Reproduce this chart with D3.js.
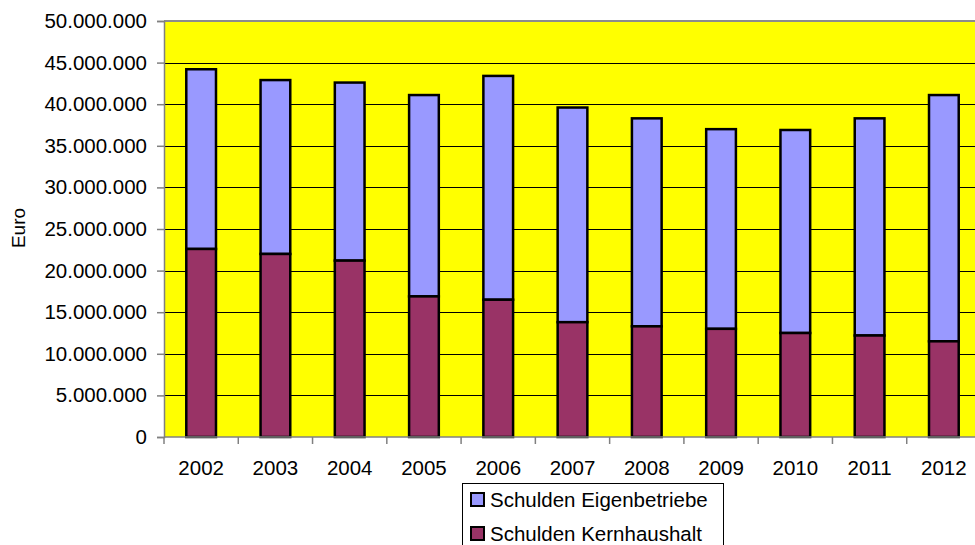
<!DOCTYPE html>
<html>
<head>
<meta charset="utf-8" />
<style>
  body { margin: 0; background: #ffffff; }
  text { font-family: Arial, "Liberation Sans", sans-serif; fill: #000; }
  .grid line { stroke: #000; stroke-width: 1; shape-rendering: crispEdges; }
  .axis .domain { stroke: #808080; stroke-width: 1.5; }
  .axis .tick line { stroke: #808080; stroke-width: 1.5; }
  .axis text { font-size: 20.5px; }
</style>
<script src="https://cdn.jsdelivr.net/npm/d3@7"></script>
</head>
<body>
<div id="chart"></div>
<script>
  var years = ['2002', '2003', '2004', '2005', '2006', '2007', '2008', '2009', '2010', '2011', '2012'];
  // Schulden Kernhaushalt (Euro)
  var kern = [22600000, 22000000, 21200000, 16900000, 16500000, 13800000, 13300000, 13000000, 12500000, 12200000, 11500000];
  // Schulden Eigenbetriebe (Euro), stacked on top
  var eigen = [21600000, 20900000, 21400000, 24200000, 26900000, 25800000, 25000000, 24000000, 24400000, 26100000, 29600000];
  var yTicks = [0, 5000000, 10000000, 15000000, 20000000, 25000000, 30000000, 35000000, 40000000, 45000000, 50000000];
  var seriesNames = ['Schulden Eigenbetriebe', 'Schulden Kernhaushalt'];
  var seriesColors = ['#9999ff', '#993366'];

  (function () {
    var w = 975, h = 545;
    var pLeft = 164, pTop = 21, pBottom = 437, pRight = 981;

    var de = d3.formatLocale({ decimal: ',', thousands: '.', grouping: [3], currency: ['', ' €'] });
    var fmt = de.format(',');

    var svg = d3.select('#chart').append('svg')
      .attr('width', w)
      .attr('height', h);

    var x = d3.scaleBand()
      .domain(years)
      .range([pLeft, pRight])
      .paddingInner(0.6)
      .paddingOuter(0.3);

    var y = d3.scaleLinear()
      .domain([0, 50000000])
      .range([pBottom, pTop]);

    // plot area
    svg.append('rect')
      .attr('x', pLeft).attr('y', pTop)
      .attr('width', pRight - pLeft).attr('height', pBottom - pTop)
      .attr('fill', '#ffff00');

    svg.append('g').attr('class', 'grid')
      .selectAll('line')
      .data(yTicks.slice(1, -1))
      .enter().append('line')
      .attr('x1', pLeft).attr('x2', pRight)
      .attr('y1', d => Math.round(y(d)) + 0.5)
      .attr('y2', d => Math.round(y(d)) + 0.5);

    svg.append('line')
      .attr('x1', pLeft).attr('x2', pRight)
      .attr('y1', pTop).attr('y2', pTop)
      .attr('stroke', '#8c8c8c').attr('stroke-width', 2);

    var rows = years.map((yr, i) => ({ year: yr, kern: kern[i], eigen: eigen[i] }));

    // Eigenbetriebe stacked on Kernhaushalt
    svg.append('g').selectAll('rect')
      .data(rows)
      .enter().append('rect')
      .attr('x', d => x(d.year))
      .attr('width', x.bandwidth())
      .attr('y', d => y(d.kern + d.eigen))
      .attr('height', d => y(d.kern) - y(d.kern + d.eigen))
      .attr('fill', seriesColors[0])
      .attr('stroke', '#000')
      .attr('stroke-width', 2.5);

    svg.append('g').selectAll('rect')
      .data(rows)
      .enter().append('rect')
      .attr('x', d => x(d.year))
      .attr('width', x.bandwidth())
      .attr('y', d => y(d.kern))
      .attr('height', d => y(0) - y(d.kern))
      .attr('fill', seriesColors[1])
      .attr('stroke', '#000')
      .attr('stroke-width', 2.5);

    // y axis
    svg.append('g')
      .attr('class', 'axis')
      .attr('transform', `translate(${pLeft},0)`)
      .call(d3.axisLeft(y).tickValues(yTicks).tickFormat(fmt).tickSize(7).tickPadding(10));

    // x axis: ticks at category boundaries
    var xAxis = svg.append('g')
      .attr('class', 'axis')
      .attr('transform', `translate(0,${pBottom})`);
    xAxis.append('line')
      .attr('x1', pLeft).attr('x2', pRight)
      .attr('stroke', '#808080').attr('stroke-width', 1.5);
    var step = x.step();
    xAxis.selectAll('line.tk')
      .data(d3.range(years.length + 1))
      .enter().append('line')
      .attr('class', 'tk')
      .attr('x1', i => pLeft + i * step).attr('x2', i => pLeft + i * step)
      .attr('y1', 0).attr('y2', 7)
      .attr('stroke', '#808080').attr('stroke-width', 1.5);
    xAxis.selectAll('text')
      .data(years)
      .enter().append('text')
      .attr('x', d => x(d) + x.bandwidth() / 2)
      .attr('y', 38)
      .attr('text-anchor', 'middle')
      .style('font-size', '20.5px')
      .text(d => d);

    // y label
    svg.append('text')
      .attr('transform', 'translate(25,228) rotate(-90)')
      .attr('text-anchor', 'middle')
      .style('font-size', '19px')
      .text('Euro');

    // legend
    var legend = svg.append('g').attr('transform', 'translate(462,483)');
    legend.append('rect')
      .attr('x', 0.5).attr('y', 0.5)
      .attr('width', 261).attr('height', 80)
      .attr('fill', '#fff')
      .attr('stroke', '#000').attr('stroke-width', 1);
    var item = legend.selectAll('g.item')
      .data(seriesNames)
      .enter().append('g')
      .attr('class', 'item')
      .attr('transform', (d, i) => `translate(0,${i * 34})`);
    item.append('rect')
      .attr('x', 9).attr('y', 10)
      .attr('width', 13).attr('height', 13)
      .attr('fill', (d, i) => seriesColors[i])
      .attr('stroke', '#000').attr('stroke-width', 2);
    item.append('text')
      .attr('x', 28).attr('y', 24)
      .style('font-size', '20.5px')
      .text(d => d);
  })();
</script>
</body>
</html>
